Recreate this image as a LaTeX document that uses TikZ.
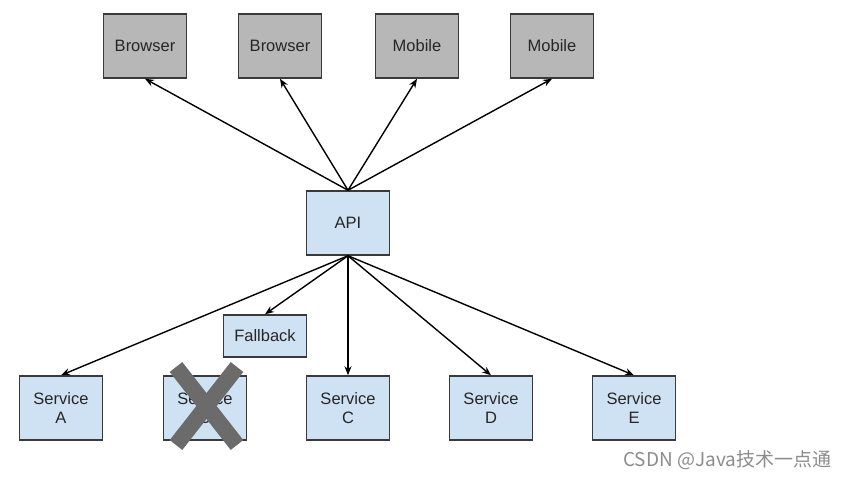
\documentclass[tikz,border=0pt]{standalone}
\usepackage{fontspec}
\setmainfont{Liberation Sans}
\newfontfamily\cjk{Noto Sans CJK SC}
\usetikzlibrary{arrows.meta}
\definecolor{boxgray}{HTML}{B7B7B7}
\definecolor{boxblue}{HTML}{CFE2F3}
\definecolor{edge}{HTML}{3A3A3A}
\definecolor{xgray}{HTML}{6B6B6B}
\begin{document}
\begin{tikzpicture}[x=1pt,y=-1pt,
  base/.style={draw=edge,line width=1.5pt,minimum width=83pt,minimum height=64pt,inner sep=0pt,align=center,font=\fontsize{16.5}{19}\selectfont,text=black!85},
  client/.style={base,fill=boxgray},
  svc/.style={base,fill=boxblue},
  conn/.style={-{Stealth[length=9pt,width=7pt]},line width=1.4pt,black}]
\useasboundingbox (0,0) rectangle (848,480);
\node[client] (b1) at (145,46) {Browser};
\node[client] (b2) at (280,46) {Browser};
\node[client] (m1) at (417,46) {Mobile};
\node[client] (m2) at (552,46) {Mobile};
\node[svc] (api) at (348,223) {API};
\node[svc,minimum height=42pt] (fb) at (265,336) {Fallback};
\node[svc] (sa) at (61,408) {Service\\A};
\node[svc] (sb) at (205,408) {Service\\B};
\node[svc] (sc) at (348,408) {Service\\C};
\node[svc] (sd) at (491,408) {Service\\D};
\node[svc] (se) at (634,408) {Service\\E};
\foreach \t in {b1,b2,m1,m2} \draw[conn] (api.north) -- (\t.south);
\draw[conn] (api.south) -- (sa.north);
\draw[conn] (api.south) -- (fb.north);
\draw[conn] (api.south) -- (sc.north);
\draw[conn] (api.south) -- (sd.north);
\draw[conn] (api.south) -- (se.north);
\coordinate (x1) at (176,367);
\coordinate (x2) at (237,445);
\coordinate (x3) at (237,367);
\coordinate (x4) at (176,445);
\draw[xgray,line width=16pt] (x1) -- (x2);
\draw[xgray,line width=16pt] (x3) -- (x4);
\node[text=black!45,font=\cjk\fontsize{19}{22}\selectfont,anchor=west,inner sep=0pt] (wm) at (623,460) {CSDN @Java技术一点通};
\end{tikzpicture}
\end{document}
